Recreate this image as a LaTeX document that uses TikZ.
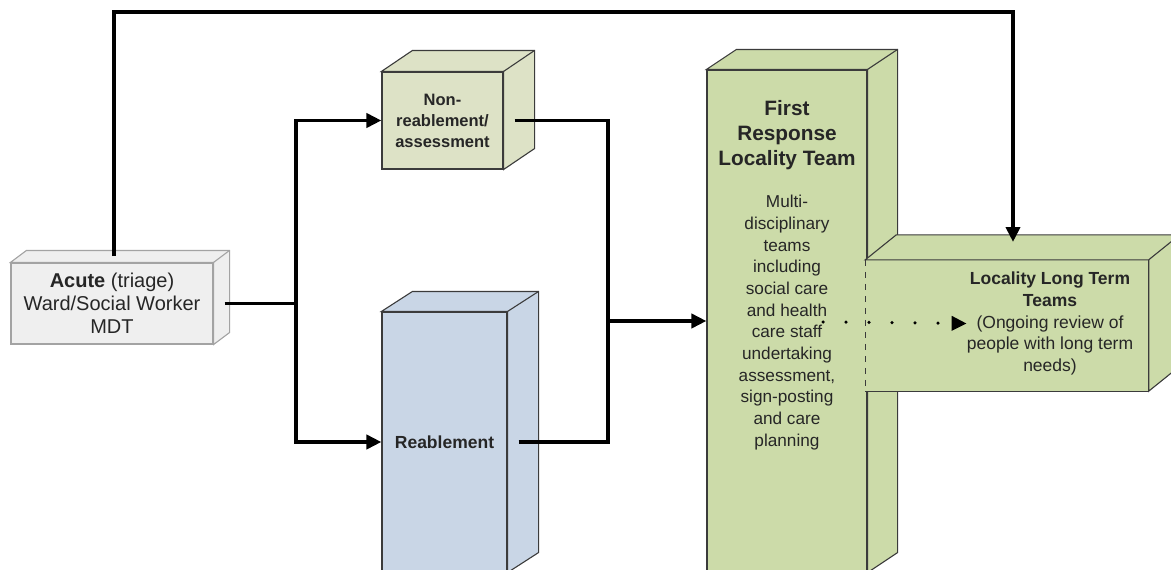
\documentclass[tikz,border=0pt]{standalone}
\usepackage{fontspec}
\setmainfont{Liberation Sans}
\usetikzlibrary{arrows.meta}

\definecolor{acutegrey}{HTML}{EFEFEF}
\definecolor{acuteline}{HTML}{A3A3A3}
\definecolor{olivepale}{HTML}{DDE2C6}
\definecolor{reabblue}{HTML}{C9D6E6}
\definecolor{teamgreen}{HTML}{CCDBA9}
\definecolor{boxline}{HTML}{3B3B3B}
\definecolor{inktext}{HTML}{262626}

\begin{document}
\begin{tikzpicture}[x=1pt,y=-1pt,>={Triangle[length=15pt,width=14pt]},
  front/.style={rectangle,inner sep=0pt,draw=boxline,line width=1.1pt,text=inktext,align=center},
  flow/.style={line width=3.8pt,black},
  lbl/.style={inner sep=0pt,text=inktext,align=center}]

\path[use as bounding box,clip] (0,0) rectangle (1171,570);

\node[front,fill=acutegrey,draw=acuteline,minimum width=202pt,minimum height=81pt,
  font=\fontsize{20}{23}\selectfont]   (acute)   at (112,303.5) {\textbf{Acute} (triage)\\Ward/Social Worker\\MDT};
\node[front,fill=olivepale,minimum width=121pt,minimum height=97pt,
  font=\fontsize{16.5}{21}\selectfont\bfseries]   (nonreab) at (442.5,120.5) {Non-\\reablement/\\assessment};
\node[front,fill=reabblue,minimum width=125pt,minimum height=260pt,
  font=\fontsize{17.5}{21}\selectfont\bfseries]   (reab)    at (444.5,442) {Reablement};
\node[front,fill=teamgreen,minimum width=160pt,minimum height=502pt]   (fr)   at (787,321) {};

% top and side faces of the blocks
\foreach \n/\dx/\dy/\c/\e in {acute/16/12/acutegrey/acuteline,nonreab/31/21/olivepale/boxline,
                              reab/31/20/reabblue/boxline,fr/30/20/teamgreen/boxline}{
  \filldraw[fill=\c,draw=\e,line width=1.1pt] (\n.north west) -- ([shift={(\dx,-\dy)}]\n.north west)
    -- ([shift={(\dx,-\dy)}]\n.north east) -- ([shift={(\dx,-\dy)}]\n.south east) -- (\n.south east)
    -- (\n.north east) -- cycle;
  \draw[draw=\e,line width=1.1pt] (\n.north east) -- ([shift={(\dx,-\dy)}]\n.north east);
}

% long term block sits in front of the first response block
\node[rectangle,inner sep=0pt,fill=teamgreen,minimum width=283pt,minimum height=131pt] (llt) at (1007,325.5) {};
\filldraw[fill=teamgreen,draw=boxline,line width=1.1pt] (llt.north west) -- ([shift={(31,-25)}]llt.north west)
  -- ([shift={(31,-25)}]llt.north east) -- ([shift={(31,-25)}]llt.south east) -- (llt.south east)
  -- (llt.north east) -- cycle;
\draw[boxline,line width=1.1pt] (llt.north east) -- ([shift={(31,-25)}]llt.north east);
\draw[boxline,line width=1.1pt] (llt.south west) -- (llt.south east);
\draw[boxline,line width=1.1pt,dash pattern=on 6pt off 6pt] (llt.north west) -- (llt.south west);

\node[lbl,font=\fontsize{20.8}{25}\selectfont\bfseries]   (frhead) at (787,135) {First\\Response\\Locality Team};
\node[lbl,font=\fontsize{17.2}{21.7}\selectfont]   (frbody) at (787,322.5) {Multi-\\disciplinary\\teams\\including\\social care\\and health\\care staff\\undertaking\\assessment,\\sign-posting\\and care\\planning};
\node[lbl,font=\fontsize{17.5}{21.7}\selectfont]   (lltxt)  at (1050,323.5) {\textbf{Locality Long Term}\\\textbf{Teams}\\(Ongoing review of\\people with long term\\needs)};

\coordinate (split)    at (296,303.5);
\coordinate (join)     at (608,321);
\coordinate (acutetop) at (114,256);
\coordinate (bend)     at (1013,12);
\coordinate (llttop)   at (1013,242);
\coordinate (dotstart) at (823,322);

\draw[flow] ([xshift=11pt]acute.east) -- (split);
\draw[flow,->] (split) |- (nonreab.west);
\draw[flow,->] (split) |- (reab.west);
\draw[flow] ([xshift=11pt]nonreab.east) -| (join);
\draw[flow] ([xshift=11pt]reab.east) -| (join);
\draw[flow,->] (join) -- (join -| fr.west);
\draw[flow,->] (acutetop) |- (bend) -- (llttop);
\draw[flow,->,line width=3.5pt,dash pattern=on 0pt off 23pt,line cap=round] (dotstart) -- (lltxt.west);
\end{tikzpicture}
\end{document}
